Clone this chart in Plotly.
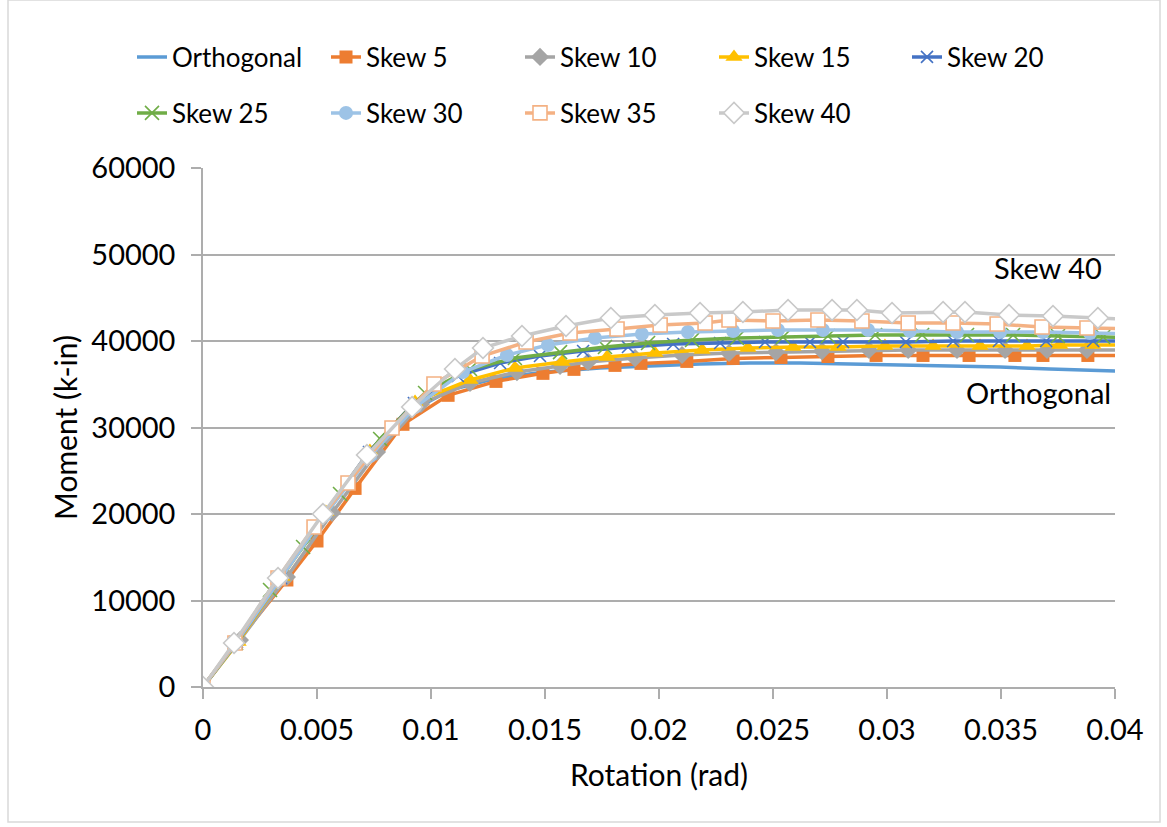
import plotly.graph_objects as go

# ---- data: rotation (rad) and moment (k-in) per skew angle ----
orth_rot = [0, 0.00145, 0.00338, 0.00526, 0.00719, 0.00908, 0.01083, 0.01289, 0.01500, 0.01741,
            0.01960, 0.02180, 0.02399, 0.02618, 0.02838, 0.03057, 0.03276, 0.03496, 0.03715, 0.03934, 0.0402]
orth_mom = [0, 5090, 12600, 19880, 26590, 31790, 34330, 35720, 36410, 36880,
            37110, 37340, 37450, 37450, 37340, 37220, 37110, 36990, 36760, 36640, 36530]

s5_rot = [0, 0.00145, 0.00368, 0.00500, 0.00667, 0.00877, 0.01075, 0.01285, 0.01491, 0.01627, 0.01807, 0.01921,
          0.02122, 0.02325, 0.02535, 0.02741, 0.02952, 0.03158, 0.03360, 0.03561, 0.03684, 0.03881, 0.04066]
s5_mom = [0, 5090, 12370, 16880, 22960, 30370, 33720, 35330, 36260, 36720, 37180, 37410,
          37640, 37980, 38100, 38210, 38330, 38330, 38330, 38330, 38330, 38330, 38330]

s10_rot = [0, 0.00162, 0.00368, 0.00566, 0.00763, 0.00956, 0.01171, 0.01377, 0.01566, 0.01689, 0.01895,
           0.02101, 0.02307, 0.02513, 0.02715, 0.02921, 0.03093, 0.03307, 0.03518, 0.03702, 0.03877, 0.04066]
s10_mom = [0, 5430, 12720, 20120, 27170, 32720, 35150, 36410, 37110, 37570, 38030,
           38380, 38610, 38720, 38840, 38960, 38960, 38960, 38960, 38960, 38960, 38960]

s15_rot = [0, 0.00154, 0.00347, 0.00539, 0.00732, 0.00930, 0.01171, 0.01368, 0.01575, 0.01772, 0.01982,
           0.02189, 0.02390, 0.02588, 0.02785, 0.02991, 0.03202, 0.03408, 0.03614, 0.03758, 0.03903, 0.04087]
s15_mom = [0, 5200, 12720, 20230, 27290, 32950, 35490, 36880, 37570, 38150, 38610,
           38960, 39190, 39310, 39310, 39420, 39420, 39420, 39420, 39540, 39540, 39540]

s20_rot = [0, 0.00149, 0.00342, 0.00535, 0.00728, 0.00925, 0.01118, 0.01303, 0.01478, 0.01667, 0.01864,
           0.02062, 0.02268, 0.02465, 0.02662, 0.02807, 0.03083, 0.03290, 0.03491, 0.03698, 0.03904, 0.04101]
s20_mom = [0, 5200, 12600, 20120, 27170, 32830, 35960, 37460, 38270, 38840, 39310,
           39650, 39770, 39890, 39890, 39890, 39890, 40000, 40000, 40000, 40000, 40000]

s25_rot = [0, 0.00145, 0.00294, 0.00439, 0.00601, 0.00777, 0.00974, 0.01171, 0.01368, 0.01566, 0.01763, 0.01952,
           0.02145, 0.02342, 0.02544, 0.02741, 0.02948, 0.03154, 0.03351, 0.03553, 0.03750, 0.03948, 0.04110]
s25_mom = [0, 5090, 11210, 16180, 22310, 28670, 33990, 36760, 38030, 38720, 39310, 39770,
           40120, 40350, 40460, 40580, 40690, 40690, 40690, 40690, 40580, 40460, 40350]

s30_rot = [0, 0.00145, 0.00342, 0.00535, 0.00733, 0.00930, 0.01140, 0.01333, 0.01513, 0.01719, 0.01925,
           0.02127, 0.02325, 0.02522, 0.02719, 0.02917, 0.03101, 0.03307, 0.03496, 0.03684, 0.03890, 0.04088]
s30_mom = [0, 5090, 12600, 19880, 26700, 32370, 36410, 38380, 39540, 40350, 40810,
           41040, 41160, 41270, 41270, 41270, 41160, 41040, 41040, 41040, 40920, 40810]

s35_rot = [0, 0.00140, 0.00329, 0.00487, 0.00636, 0.00829, 0.01013, 0.01224, 0.01417, 0.01610, 0.01816, 0.02005,
           0.02202, 0.02307, 0.02500, 0.02697, 0.02890, 0.03093, 0.03290, 0.03483, 0.03680, 0.03877, 0.04075]
s35_mom = [0, 5090, 12600, 18500, 23580, 29940, 35030, 38260, 39880, 40920, 41390, 41850,
           42080, 42430, 42310, 42430, 42310, 42080, 42080, 41960, 41620, 41500, 41390]

s40_rot = [0, 0.00136, 0.00329, 0.00526, 0.00719, 0.00917, 0.01105, 0.01228, 0.01399, 0.01592, 0.01789, 0.01982,
           0.02180, 0.02368, 0.02566, 0.02759, 0.02868, 0.03022, 0.03246, 0.03342, 0.03535, 0.03728, 0.03925, 0.04110]
s40_mom = [0, 5090, 12600, 20000, 26820, 32370, 36760, 39190, 40580, 41730, 42660, 43010,
           43240, 43350, 43580, 43580, 43580, 43240, 43350, 43350, 43010, 42890, 42660, 42430]

series_names = ["Orthogonal", "Skew 5", "Skew 10", "Skew 15", "Skew 20",
                "Skew 25", "Skew 30", "Skew 35", "Skew 40"]
x_ticks = [0, 0.005, 0.01, 0.015, 0.02, 0.025, 0.03, 0.035, 0.04]
y_ticks = [0, 10000, 20000, 30000, 40000, 50000, 60000]

FONT = "Lato"
LW = 3.5

# (x, y, line colour, marker spec, legend id) in the order of series_names
styles = [
    (orth_rot, orth_mom, "#5B9BD5", None, "legend"),
    (s5_rot, s5_mom, "#ED7D31", dict(symbol="square", size=13, color="#ED7D31"), "legend"),
    (s10_rot, s10_mom, "#A5A5A5", dict(symbol="diamond", size=14, color="#A5A5A5"), "legend"),
    (s15_rot, s15_mom, "#FFC000", dict(symbol="triangle-up", size=15, color="#FFC000"), "legend"),
    (s20_rot, s20_mom, "#4472C4", dict(symbol="x-thin", size=12, color="#4472C4",
                                       line=dict(color="#4472C4", width=1.6)), "legend3"),
    (s25_rot, s25_mom, "#70AD47", dict(symbol="x-thin", size=14, color="#70AD47",
                                       line=dict(color="#70AD47", width=1.6)), "legend2"),
    (s30_rot, s30_mom, "#9DC3E6", dict(symbol="circle", size=14, color="#9DC3E6"), "legend2"),
    (s35_rot, s35_mom, "#F4B183", dict(symbol="square", size=14, color="white",
                                       line=dict(color="#F4B183", width=1.6)), "legend2"),
    (s40_rot, s40_mom, "#C9C9C9", dict(symbol="diamond", size=16, color="white",
                                       line=dict(color="#C9C9C9", width=1.6)), "legend2"),
]

fig = go.Figure()
for name, (xs, ys, col, mk, lg) in zip(series_names, styles):
    fig.add_trace(go.Scatter(
        x=xs, y=ys, name=name,
        mode="lines" if mk is None else "lines+markers",
        line=dict(color=col, width=LW),
        marker=mk,
        legend=lg,
    ))


def legend_row(x_px, y_px):
    # one horizontal legend row placed in figure pixels
    return dict(
        orientation="h", xref="container", yref="container",
        x=x_px / 1167, y=1 - y_px / 827, xanchor="left", yanchor="middle",
        entrywidth=149, entrywidthmode="pixels",
        font=dict(size=26), bgcolor="rgba(0,0,0,0)",
    )


axis_col = "#ADADAD"
fig.update_layout(
    width=1167, height=827,
    margin=dict(l=203, r=52, t=168, b=140),
    paper_bgcolor="white", plot_bgcolor="white",
    font=dict(family=FONT, color="#000000", size=26),
    xaxis=dict(
        range=[0, 0.04], tickvals=x_ticks, ticktext=[f"{v:g}" for v in x_ticks],
        showgrid=False, zeroline=False,
        showline=True, linecolor=axis_col, linewidth=1.5,
        ticks="outside", ticklen=10, tickcolor=axis_col, tickwidth=1.5,
        tickfont=dict(size=29), ticklabelstandoff=6,
        title=dict(text="Rotation (rad)", font=dict(size=30), standoff=20),
    ),
    yaxis=dict(
        range=[0, 60000], tickvals=y_ticks, ticktext=[str(v) for v in y_ticks],
        showgrid=True, gridcolor=axis_col, gridwidth=1.5, zeroline=False,
        showline=True, linecolor=axis_col, linewidth=1.5,
        ticks="outside", ticklen=10, tickcolor=axis_col, tickwidth=1.5,
        tickfont=dict(size=29), ticklabelstandoff=10,
        title=dict(text="Moment (k-in)", font=dict(size=30), standoff=5),
    ),
    legend=legend_row(132, 57),
    legend3=legend_row(907, 57),
    legend2=legend_row(132, 113),
    annotations=[
        dict(x=0.0395, y=48500, xref="x", yref="y", text="Skew 40", showarrow=False,
             xanchor="right", yanchor="middle", font=dict(size=29)),
        dict(x=0.0399, y=34000, xref="x", yref="y", text="Orthogonal", showarrow=False,
             xanchor="right", yanchor="middle", font=dict(size=29)),
    ],
    shapes=[
        dict(type="rect", xref="paper", yref="paper",
             x0=(8 - 203) / 912, x1=(1160 - 203) / 912,
             y0=(687 - 822) / 519, y1=(687 - 0) / 519,
             line=dict(color="#D9D9D9", width=1.5), fillcolor="rgba(0,0,0,0)", layer="below"),
    ],
)

fig.write_html("out.html")
